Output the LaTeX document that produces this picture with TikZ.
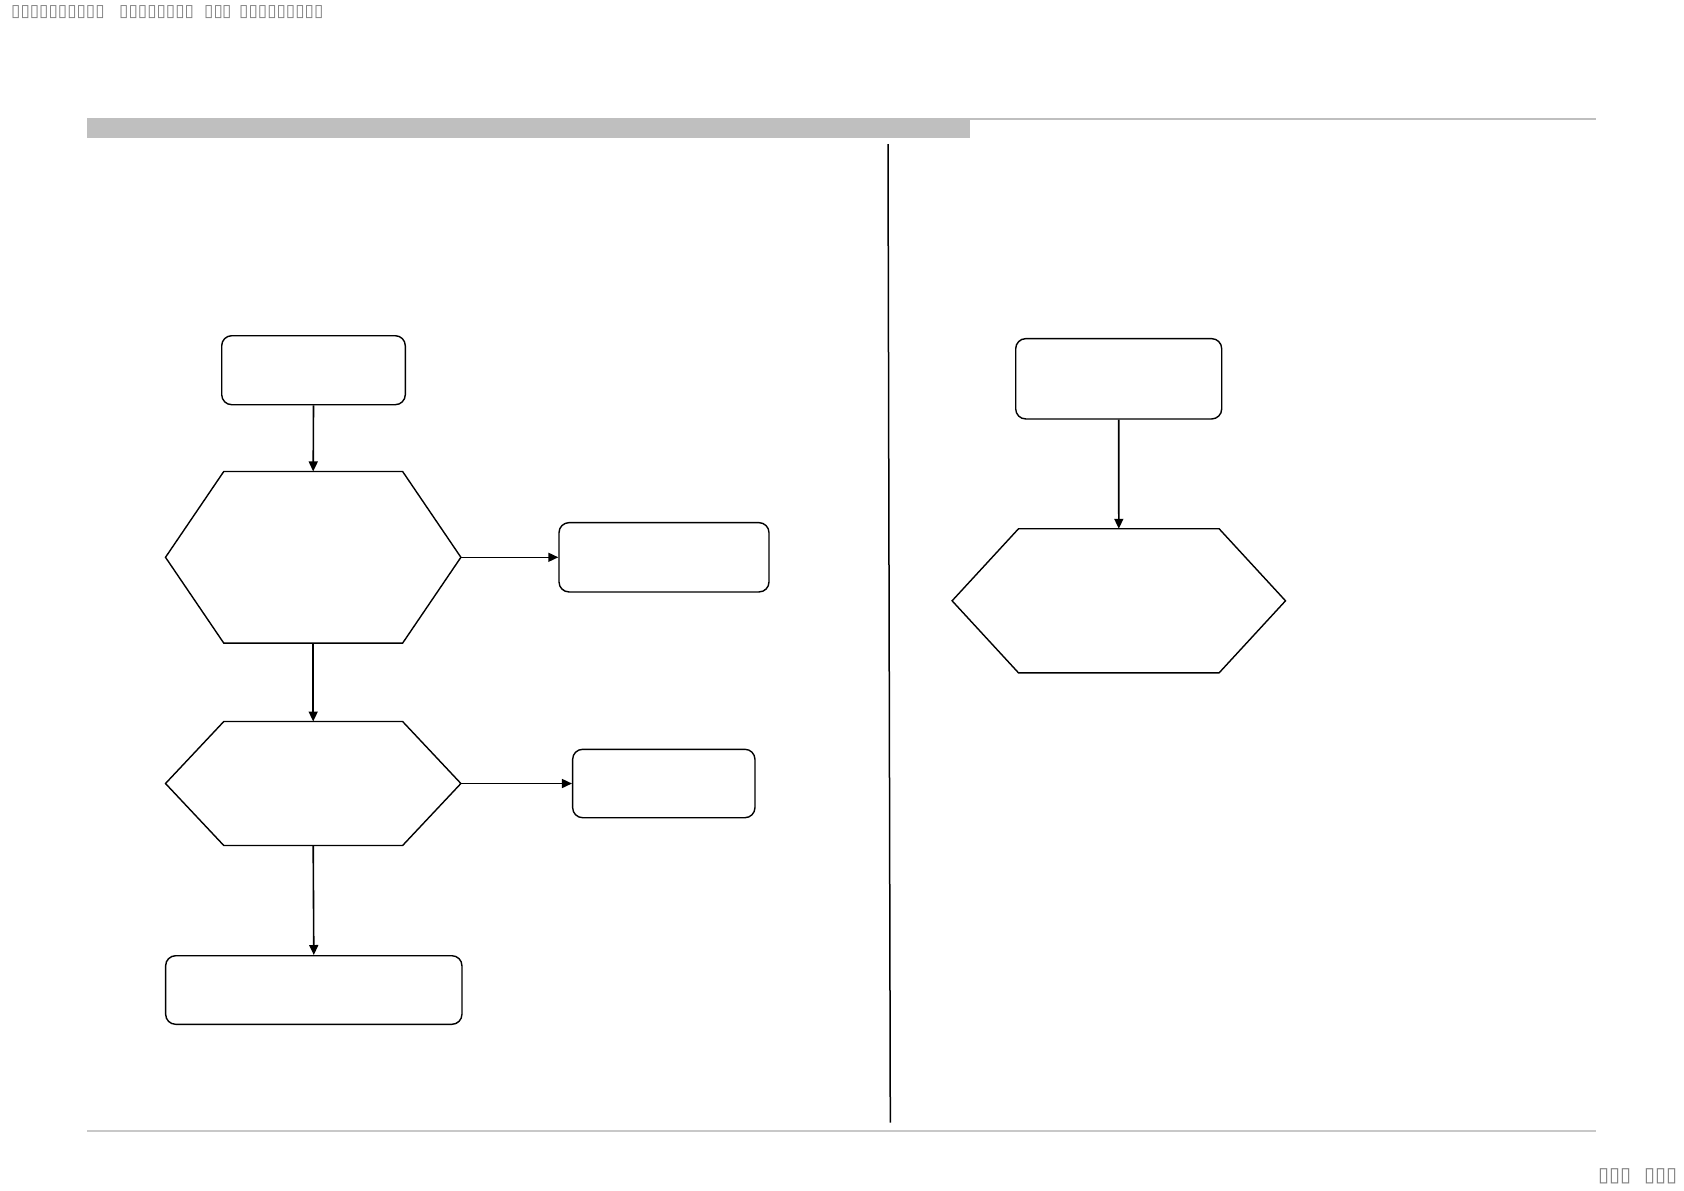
\documentclass[tikz,border=0pt]{standalone}
\usepackage{fontspec}
\newfontfamily\tofufont{DejaVu Sans}
\usetikzlibrary{arrows.meta,calc}
\definecolor{bargray}{HTML}{BFBFBF}
\definecolor{rulegray}{HTML}{C8C8C8}
\definecolor{textgray}{HTML}{808080}
\tikzset{
  x=1pt,y=-1pt,
  stepbox/.style={draw,line width=1.4pt,rounded corners=10pt,inner sep=0pt},
  hexbase/.style={draw=none,inner sep=0pt},
  hexline/.style={line width=1.4pt,line join=miter},
  flow/.style={line width=1.6pt,-{Triangle[length=10pt,width=9pt]}},
  tofu/.style={text=textgray,font=\tofufont\fontsize{17}{17}\selectfont,inner sep=0pt,anchor=west},
  tofubig/.style={tofu,font=\tofufont\fontsize{20}{20}\selectfont}
}
\begin{document}
\begin{tikzpicture}
\useasboundingbox (0,0) rectangle (1684,1191);
\fill[white] (0,0) rectangle (1684,1191);
% header
\node[tofu] (h1t) at (11,12.5) {▯▯▯▯▯▯▯▯▯▯};
\node[tofu] (h2t) at (119,12.5) {▯▯▯▯▯▯▯▯};
\node[tofu] (h3t) at (204,12.5) {▯▯};
\node[tofu] (h4t) at (222,12.5) {▯};
\node[tofu] (h5t) at (239,12.5) {▯▯▯▯▯▯▯▯▯};
\node[tofubig] (f1t) at (1598,1176.5) {▯▯▯};
\node[tofubig] (f2t) at (1644,1176.5) {▯▯▯};
% bars and rules
\fill[bargray] (86.7,117.7) rectangle (970,137.7);
\draw[bargray,line width=2pt] (970,118.7) -- (1596,118.7);
\draw[rulegray,line width=1.2pt] (87,1131) -- (1596,1131);
\coordinate (dtop) at (888,144);
\coordinate (dbot) at (890.3,1122.7);
\draw[line width=1.5pt] (dtop) -- (dbot);
% boxes
\node[stepbox,minimum width=183.6pt,minimum height=69pt] (b1) at (313.5,370.2) {};
\node[stepbox,minimum width=210pt,minimum height=69.3pt] (b2) at (664,557.3) {};
\node[stepbox,minimum width=182.3pt,minimum height=68.4pt] (b3) at (663.8,783.5) {};
\node[stepbox,minimum width=296.3pt,minimum height=68.6pt] (b4) at (313.8,990) {};
\node[stepbox,minimum width=206pt,minimum height=80.3pt] (b5) at (1118.7,378.8) {};
% hexagons
\node[hexbase,minimum width=295pt,minimum height=171.3pt] (x1) at (313.2,557.3) {};
\node[hexbase,minimum width=295pt,minimum height=123.6pt] (x2) at (313.2,783.5) {};
\node[hexbase,minimum width=333pt,minimum height=143.7pt] (x3) at (1118.8,600.8) {};
\draw[hexline] (x1.west) -- ([xshift=58.3pt]x1.north west) -- ([xshift=-58.3pt]x1.north east) -- (x1.east) -- ([xshift=-58.3pt]x1.south east) -- ([xshift=58.3pt]x1.south west) -- cycle;
\draw[hexline] (x2.west) -- ([xshift=58.3pt]x2.north west) -- ([xshift=-58.3pt]x2.north east) -- (x2.east) -- ([xshift=-58.3pt]x2.south east) -- ([xshift=58.3pt]x2.south west) -- cycle;
\draw[hexline] (x3.west) -- ([xshift=66.4pt]x3.north west) -- ([xshift=-66.4pt]x3.north east) -- (x3.east) -- ([xshift=-66.4pt]x3.south east) -- ([xshift=66.4pt]x3.south west) -- cycle;
% connectors
\draw[flow] (b1.south) -- (x1.north);
\draw[flow] (x1.south) -- (x2.north);
\draw[flow] (x2.south) -- (b4.north);
\draw[flow] (x1.east) -- (b2.west);
\draw[flow] (x2.east) -- (b3.west);
\draw[flow] (b5.south) -- (x3.north);
\end{tikzpicture}
\end{document}
